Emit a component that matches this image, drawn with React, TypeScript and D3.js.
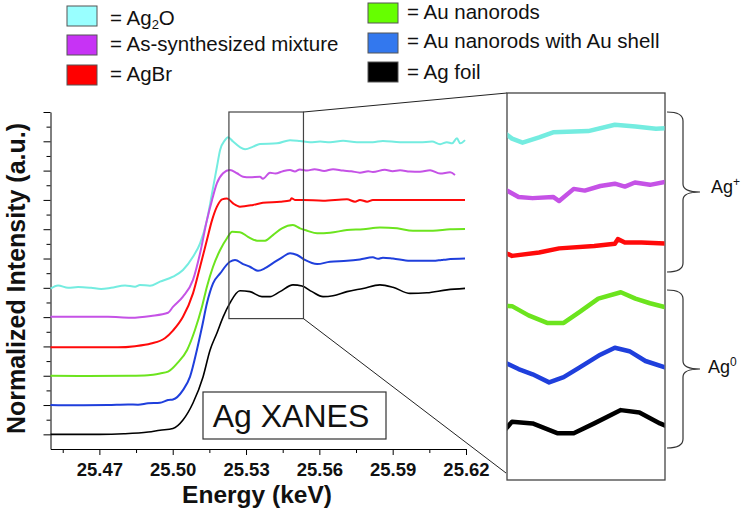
import React, { useEffect, useRef } from 'react';
import * as d3 from 'd3';

type Pt = [number, number];

// energy (keV), normalized intensity (offset by 1 per spectrum)
const agFoil: Pt[] = [
  [25.450, 0.00], [25.470, 0.00], [25.480, 0.02], [25.490, 0.08], [25.4948, 0.14],
  [25.5001, 0.20], [25.5042, 0.49], [25.5083, 1.07], [25.5124, 1.96], [25.5153, 2.88],
  [25.5181, 3.46], [25.5206, 4.00], [25.5234, 4.48], [25.5275, 4.90], [25.5316, 4.87],
  [25.5365, 4.70], [25.5398, 4.70], [25.5439, 4.87], [25.5492, 5.10], [25.5529, 5.06],
  [25.5570, 4.87], [25.5615, 4.70], [25.5656, 4.73], [25.5713, 4.87], [25.5779, 4.98],
  [25.5848, 5.10], [25.5901, 5.02], [25.5971, 4.81], [25.6040, 4.83], [25.6122, 4.93],
  [25.6196, 4.98],
];

const auShell: Pt[] = [
  [25.450, 1.00], [25.4600, 0.99], [25.4735, 1.00], [25.4817, 1.02], [25.4858, 1.01],
  [25.4899, 1.06], [25.4948, 1.08], [25.4981, 1.17], [25.5001, 1.19], [25.5042, 1.51],
  [25.5071, 1.97], [25.5099, 2.88], [25.5120, 3.67], [25.5140, 4.47], [25.5165, 5.15],
  [25.5194, 5.49], [25.5234, 5.89], [25.5255, 5.95], [25.5288, 5.81], [25.5316, 5.72],
  [25.5349, 5.58], [25.5378, 5.67], [25.5410, 5.84], [25.5451, 6.06], [25.5480, 6.18],
  [25.5509, 6.12], [25.5541, 5.95], [25.5591, 5.81], [25.5644, 5.89], [25.5713, 5.92],
  [25.5766, 5.97], [25.5819, 6.04], [25.5840, 5.99], [25.5860, 6.03], [25.5901, 6.00],
  [25.5971, 5.92], [25.6065, 5.92], [25.6100, 5.95], [25.6122, 5.97], [25.6196, 6.00],
];

const auRods: Pt[] = [
  [25.450, 2.00], [25.465, 1.99], [25.4829, 2.00], [25.4899, 2.02], [25.4948, 2.08],
  [25.4981, 2.14], [25.5018, 2.42], [25.5059, 2.88], [25.5091, 3.56], [25.5120, 4.36],
  [25.5140, 5.04], [25.5165, 5.72], [25.5194, 6.29], [25.5222, 6.69], [25.5243, 6.91],
  [25.5275, 6.90], [25.5308, 6.74], [25.5345, 6.61], [25.5378, 6.61], [25.5410, 6.80],
  [25.5447, 7.03], [25.5492, 7.14], [25.5521, 7.03], [25.5550, 6.95], [25.5591, 6.86],
  [25.5644, 6.88], [25.5713, 6.97], [25.5779, 7.00], [25.5848, 7.06], [25.5918, 7.03],
  [25.5983, 6.95], [25.6065, 6.95], [25.6135, 7.00], [25.6196, 7.01],
];

const agBr: Pt[] = [
  [25.450, 2.97], [25.4776, 2.97], [25.4846, 3.01], [25.4911, 3.10], [25.4968, 3.28],
  [25.5001, 3.54], [25.5042, 4.01], [25.5083, 4.81], [25.5112, 5.72], [25.5140, 6.63],
  [25.5161, 7.31], [25.5181, 7.77], [25.5202, 8.02], [25.5222, 8.05], [25.5247, 7.88],
  [25.5275, 7.77], [25.5329, 7.83], [25.5369, 7.90], [25.5439, 7.94], [25.5480, 7.98],
  [25.5486, 8.06], [25.5500, 8.00], [25.5533, 8.00], [25.5615, 7.97], [25.5713, 8.02],
  [25.5746, 7.94], [25.5766, 8.00], [25.5795, 7.94], [25.5819, 8.00], [25.6196, 8.00],
];

const asSynth: Pt[] = [
  [25.450, 4.01], [25.4735, 4.01], [25.4829, 3.98], [25.4911, 4.04], [25.4981, 4.15],
  [25.5001, 4.35], [25.5042, 4.70], [25.5083, 5.27], [25.5112, 6.18], [25.5140, 7.31],
  [25.5161, 8.00], [25.5181, 8.57], [25.5206, 8.91], [25.5234, 9.02], [25.5263, 8.91],
  [25.5288, 8.79], [25.5316, 8.77], [25.5357, 8.79], [25.5369, 8.72], [25.5398, 8.93],
  [25.5420, 8.90], [25.5451, 8.98], [25.5480, 9.02], [25.5500, 8.97], [25.5520, 9.04],
  [25.5550, 9.00], [25.5580, 9.05], [25.5620, 8.99], [25.5656, 9.05], [25.5697, 9.00],
  [25.5730, 8.98], [25.5766, 8.93], [25.5800, 8.98], [25.5819, 8.95], [25.5868, 9.03],
  [25.5900, 8.98], [25.5930, 9.01], [25.5970, 8.97], [25.6012, 8.96], [25.6053, 9.01],
  [25.6094, 8.90], [25.6135, 8.94], [25.6155, 8.85],
];

const ag2o: Pt[] = [
  [25.450, 4.97], [25.4531, 5.08], [25.4572, 5.00], [25.4613, 5.03], [25.4666, 5.00],
  [25.4707, 4.96], [25.4748, 5.00], [25.4805, 5.08], [25.4846, 5.04], [25.4866, 5.10],
  [25.4907, 5.07], [25.4948, 5.21], [25.5001, 5.38], [25.5042, 5.61], [25.5083, 6.06],
  [25.5112, 6.52], [25.5140, 7.31], [25.5161, 8.23], [25.5181, 9.13], [25.5194, 9.70],
  [25.5214, 10.04], [25.5226, 10.14], [25.5247, 9.99], [25.5275, 9.80], [25.5296, 9.73],
  [25.5329, 9.82], [25.5357, 9.91], [25.5427, 9.93], [25.5480, 10.04], [25.5521, 10.01],
  [25.5562, 9.97], [25.5603, 9.99], [25.5644, 9.97], [25.5697, 10.02], [25.5754, 9.97],
  [25.5819, 9.97], [25.5860, 10.01], [25.5930, 9.97], [25.6012, 9.97], [25.6061, 9.99],
  [25.6094, 9.90], [25.6122, 9.97], [25.6143, 9.93], [25.6163, 10.10], [25.6176, 9.93],
  [25.6196, 10.04],
];

const spectra = [ag2o, asSynth, agBr, auRods, auShell, agFoil];
const lineColors = ['#74ECE0', '#C552E6', '#FF0A0A', '#6CE41E', '#1F3FDC', '#000000'];
const swatchColors = ['#99FFFF', '#C733F5', '#FF0000', '#66FF00', '#3378EE', '#000000'];
const legendLabels = ['Ag2O', 'As-synthesized mixture', 'AgBr', 'Au nanorods', 'Au nanorods with Au shell', 'Ag foil'];

const xMajorTicks = [25.47, 25.50, 25.53, 25.56, 25.59, 25.62];
const xMinorTicks = [25.455, 25.485, 25.515, 25.545, 25.575, 25.605];
const xTickLabels = ['25.47', '25.50', '25.53', '25.56', '25.59', '25.62'];
const yMajorTicks = d3.range(0, 12);
const yMinorTicks = d3.range(0.5, 11, 1);

// zoom window (data units) and the region it is magnified into
const zoomX: [number, number] = [25.523, 25.5535];
const zoomY: [number, number] = [3.95, 11];
const insetX: [number, number] = [25.5265, 25.558];
const insetY: [number, number] = [3.89, 10.59];

const FONT = "'Liberation Sans', Arial, Helvetica, sans-serif";

const App: React.FC = () => {
  const ref = useRef<SVGSVGElement>(null);

  useEffect(() => {
    const svg = d3.select(ref.current);
    svg.selectAll('*').remove();
    svg.attr('width', 745).attr('height', 512).style('font-family', FONT);

    svg.append('rect').attr('width', 745).attr('height', 512).attr('fill', '#fff');

    const x = d3.scaleLinear().domain([25.45, 25.62]).range([50.5, 466]);
    const y = d3.scaleLinear().domain([-0.5, 11]).range([449, 112]);

    // axes
    const xAxis = svg.append('g').attr('transform', 'translate(0,449)')
      .call(d3.axisBottom(x).tickValues(xMajorTicks).tickSize(6).tickSizeOuter(0).tickPadding(8)
        .tickFormat((_d, i) => xTickLabels[i]));
    xAxis.selectAll('text').attr('font-size', 18.5).attr('font-weight', 'bold').attr('fill', '#111').attr('font-family', FONT);
    const xMinor = svg.append('g').attr('transform', 'translate(0,449)')
      .call(d3.axisBottom(x).tickValues(xMinorTicks).tickSize(4).tickFormat(() => ''));
    xMinor.select('.domain').remove();

    svg.append('g').attr('transform', 'translate(50.5,0)')
      .call(d3.axisLeft(y).tickValues(yMajorTicks).tickSize(7).tickSizeOuter(0).tickFormat(() => ''));
    const yMinor = svg.append('g').attr('transform', 'translate(50.5,0)')
      .call(d3.axisLeft(y).tickValues(yMinorTicks).tickSize(4).tickFormat(() => ''));
    yMinor.select('.domain').remove();

    // spectra
    const line = d3.line<Pt>().x(d => x(d[0])).y(d => y(d[1])).curve(d3.curveMonotoneX);
    spectra.forEach((s, i) => {
      svg.append('path').datum(s)
        .attr('fill', 'none')
        .attr('stroke', lineColors[i])
        .attr('stroke-width', i === 5 ? 1.6 : 2)
        .attr('d', line);
    });

    // zoom window on the main plot
    const zx0 = x(zoomX[0]), zx1 = x(zoomX[1]);
    const zy0 = y(zoomY[1]), zy1 = y(zoomY[0]);
    svg.append('rect')
      .attr('x', zx0).attr('y', zy0).attr('width', zx1 - zx0).attr('height', zy1 - zy0)
      .attr('fill', 'none').attr('stroke', '#444').attr('stroke-width', 1.2);

    // inset
    const xi = d3.scaleLinear().domain(insetX).range([507, 665]);
    const yi = d3.scaleLinear().domain(insetY).range([480, 93]);

    svg.append('line').attr('x1', zx1).attr('y1', zy0).attr('x2', 507).attr('y2', 93)
      .attr('stroke', '#222').attr('stroke-width', 1);
    svg.append('line').attr('x1', zx1).attr('y1', zy1).attr('x2', 506).attr('y2', 473)
      .attr('stroke', '#222').attr('stroke-width', 1);

    svg.append('rect').attr('x', 507).attr('y', 93).attr('width', 158).attr('height', 387)
      .attr('fill', '#fff').attr('stroke', '#444').attr('stroke-width', 1.3);

    svg.append('clipPath').attr('id', 'inset-clip')
      .append('rect').attr('x', 507.5).attr('y', 93.5).attr('width', 157).attr('height', 386);

    const insetLine = d3.line<Pt>().x(d => xi(d[0])).y(d => yi(d[1])).curve(d3.curveLinear);
    const insetG = svg.append('g').attr('clip-path', 'url(#inset-clip)');
    spectra.forEach((s, i) => {
      insetG.append('path').datum(s)
        .attr('fill', 'none')
        .attr('stroke', lineColors[i])
        .attr('stroke-width', 4.5)
        .attr('stroke-linejoin', 'round')
        .attr('d', insetLine);
    });

    // braces
    const brace = (top: number, bottom: number) => {
      const mid = (top + bottom) / 2;
      return `M667,${top} Q683,${top} 683,${top + 9} L683,${mid - 8} Q683,${mid} 700,${mid}` +
        ` Q683,${mid} 683,${mid + 8} L683,${bottom - 9} Q683,${bottom} 667,${bottom}`;
    };
    svg.append('path').attr('d', brace(112, 272)).attr('fill', 'none').attr('stroke', '#333').attr('stroke-width', 1.2);
    svg.append('path').attr('d', brace(290, 448)).attr('fill', 'none').attr('stroke', '#333').attr('stroke-width', 1.2);

    const agPlus = svg.append('text').attr('x', 711).attr('y', 193).attr('font-size', 18).attr('fill', '#111');
    agPlus.append('tspan').text('Ag');
    agPlus.append('tspan').attr('font-size', 12).attr('dy', -7).text('+');
    const agZero = svg.append('text').attr('x', 708).attr('y', 373).attr('font-size', 18).attr('fill', '#111');
    agZero.append('tspan').text('Ag');
    agZero.append('tspan').attr('font-size', 12).attr('dy', -7).text('0');

    // Ag XANES label
    svg.append('rect').attr('x', 203).attr('y', 392).attr('width', 183).attr('height', 47)
      .attr('fill', '#fff').attr('stroke', '#333').attr('stroke-width', 1.2);
    svg.append('text').attr('x', 291).attr('y', 427).attr('text-anchor', 'middle')
      .attr('font-size', 32).attr('fill', '#111').text('Ag XANES');

    // axis titles
    svg.append('text').attr('x', 257).attr('y', 503).attr('text-anchor', 'middle')
      .attr('font-size', 24.5).attr('font-weight', 'bold').attr('fill', '#111').text('Energy (keV)');
    svg.append('text').attr('transform', 'translate(25,278.5) rotate(-90)').attr('text-anchor', 'middle')
      .attr('font-size', 25).attr('font-weight', 'bold').attr('fill', '#111').text('Normalized Intensity (a.u.)');

    // legend
    const legendPos = [
      { sx: 67, sy: 6, tx: 110, ty: 25 },
      { sx: 67, sy: 35, tx: 110, ty: 51 },
      { sx: 67, sy: 65, tx: 110, ty: 81 },
      { sx: 368, sy: 3, tx: 407, ty: 19 },
      { sx: 368, sy: 33, tx: 407, ty: 48 },
      { sx: 368, sy: 62, tx: 407, ty: 79 },
    ];
    legendLabels.forEach((label, i) => {
      const p = legendPos[i];
      svg.append('rect').attr('x', p.sx).attr('y', p.sy).attr('width', 30).attr('height', 20)
        .attr('fill', swatchColors[i]).attr('stroke', '#555').attr('stroke-width', 1);
      const t = svg.append('text').attr('x', p.tx).attr('y', p.ty).attr('font-size', 20.5).attr('fill', '#111');
      if (label === 'Ag2O') {
        t.append('tspan').text('= Ag');
        t.append('tspan').attr('font-size', 13).attr('dy', 4).text('2');
        t.append('tspan').attr('dy', -4).text('O');
      } else {
        t.text('= ' + label);
      }
    });
  }, []);

  return <svg ref={ref} style={{ position: 'absolute', left: 0, top: 0 }}></svg>;
};

export default App;
